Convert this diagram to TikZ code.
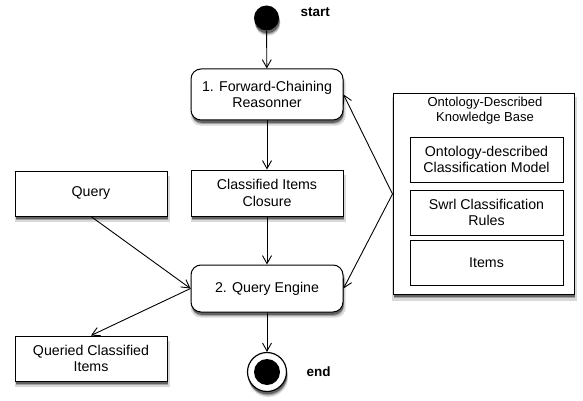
\documentclass[tikz,border=0pt]{standalone}
\usepackage{fontspec}
\setmainfont{Liberation Sans}
\usetikzlibrary{arrows.meta,shadows}
\begin{document}
\begin{tikzpicture}[x=1pt,y=-1pt,
  font=\fontsize{14.2}{16.7}\selectfont,
  shad/.style={
    drop shadow={shadow xshift=1.2pt,shadow yshift=-5pt,shadow scale=1.02,opacity=0.15,fill=black},
    drop shadow={shadow xshift=1pt,shadow yshift=-4pt,opacity=0.25,fill=black},
    drop shadow={shadow xshift=0.6pt,shadow yshift=-2.8pt,opacity=0.4,fill=black}},
  box/.style={draw,line width=1pt,fill=white,align=center,inner sep=0pt,minimum width=152pt,shad},
  act/.style={box,rounded corners=10pt},
  inbox/.style={draw,line width=1pt,fill=white,align=center,inner sep=0pt,minimum width=153pt,minimum height=45pt},
  arr/.style={-{Straight Barb[length=8pt,width=9pt,line width=0.9pt]},line width=0.9pt},
  lbl/.style={font=\fontsize{13.5}{16.5}\selectfont\bfseries,anchor=west}
]
\useasboundingbox (0,0) rectangle (583,401);

\node[circle,fill=black,minimum size=25pt,inner sep=0pt,shad] (start) at (266.5,18) {};
\node[lbl] (startlbl) at (297,12) {start};

\node[act,minimum height=51pt] (fwd) at (267,94.5) {1. Forward-Chaining\\Reasonner};
\node[box,minimum height=46pt] (clos) at (267,193) {Classified Items\\Closure};
\node[box,minimum height=45pt] (query) at (91,193.5) {Query};
\node[act,minimum height=47pt] (qe) at (267,288.5) {2. Query Engine};
\node[box,minimum height=45pt] (queried) at (91,358.5) {Queried Classified\\Items};

\node[circle,draw,line width=1.2pt,fill=white,minimum size=39pt,inner sep=0pt,shad] (endo) at (267,372) {};
\node[circle,fill=black,minimum size=26pt,inner sep=0pt] (endi) at (endo.center) {};
\node[lbl] (endlbl) at (303,372) {end};

\node[box,minimum width=181pt,minimum height=200pt] (kb) at (483.5,194) {};
\node[align=center,font=\fontsize{13}{15.5}\selectfont] (kbt) at (485,110.5) {Ontology-Described\\Knowledge Base};
\node[inbox] (m1) at (486.5,159.5) {Ontology-described\\Classification Model};
\node[inbox] (m2) at (486.5,212.5) {Swrl Classification\\Rules};
\node[inbox] (m3) at (486.5,262.5) {Items};

\draw[arr] (start) -- (fwd);
\draw[arr] (fwd) -- (clos);
\draw[arr] (clos) -- (qe);
\draw[arr] (qe) -- (endo);
\draw[arr] (query.south) -- (qe.west);
\draw[arr] (qe.west) -- (queried.north);
\draw[arr] (kb.west) -- (fwd.east);
\draw[arr] (kb.west) -- (qe.east);
\end{tikzpicture}
\end{document}
